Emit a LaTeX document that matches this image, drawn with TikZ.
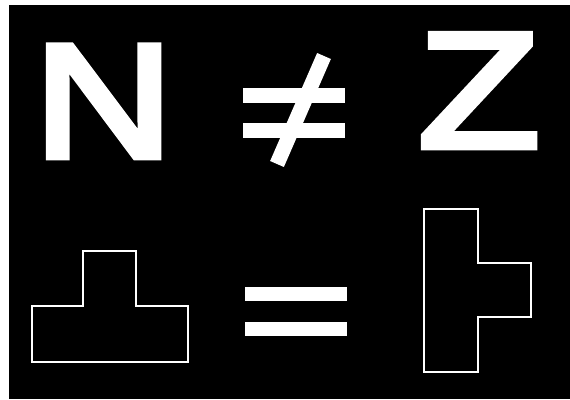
\documentclass[tikz,border=0pt]{standalone}
\usepackage{fontspec}
\setmainfont{Liberation Sans}
\newfontfamily\heavyfont[FakeBold=4]{Liberation Sans}
\begin{document}
\begin{tikzpicture}[x=1pt,y=-1pt,
  bar/.style={fill=white},
  outline/.style={draw=white,line width=2.4pt,line join=miter},
  letter/.style={inner sep=0pt,outer sep=0pt,text=white}]
\fill[white] (0,0) rectangle (570,399);
\fill[black] (9,5) rectangle (570,399);
\useasboundingbox (0,0) rectangle (570,399);
% letters
\node[letter,anchor=base west] (N) at (34,157) {\heavyfont\fontsize{162}{162}\selectfont\scalebox{1.19}[1]{N}};
\node[letter,anchor=base west] (Z) at (418.5,147) {\heavyfont\fontsize{164}{164}\selectfont\scalebox{1.21}[1]{Z}};
% not equal
\fill[bar] (243,88) rectangle (345,103);
\fill[bar] (243,123) rectangle (345,138);
\draw[white,line width=15pt] (324,56) -- (277,164);
% equal
\fill[bar] (245,287) rectangle (347,301);
\fill[bar] (245,322) rectangle (347,336);
% T shapes
\draw[outline] (32,306) -- (83,306) -- (83,251) -- (136,251) -- (136,306) -- (188,306) -- (188,362) -- (32,362) -- cycle;
\draw[outline] (424,209) -- (478,209) -- (478,263) -- (531,263) -- (531,317) -- (478,317) -- (478,372) -- (424,372) -- cycle;
\end{tikzpicture}
\end{document}
